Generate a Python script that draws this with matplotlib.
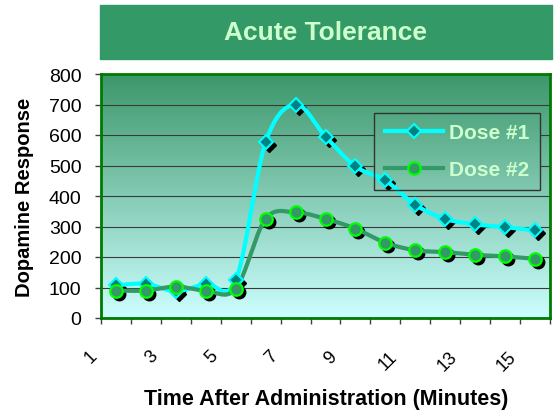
import matplotlib
matplotlib.use("Agg")
import matplotlib.pyplot as plt
import numpy as np
from matplotlib.colors import LinearSegmentedColormap
from matplotlib.patches import Rectangle
from matplotlib import transforms

plt.rcParams['font.family'] = ['Liberation Sans', 'DejaVu Sans']

# data
minutes = list(range(1, 16))
dose1 = [107, 112, 88, 112, 123, 576, 700, 595, 497, 451, 371, 325, 307, 298, 287]
dose2 = [90, 90, 103, 90, 96, 325, 346, 325, 293, 247, 222, 216, 207, 202, 194]
y_ticks = [0, 100, 200, 300, 400, 500, 600, 700, 800]


def smooth(x, y, n=24):
    # catmull-rom path through the points, like Excel's smoothed line
    p = np.column_stack([x, y]).astype(float)
    p = np.vstack([p[0], p, p[-1]])
    out = []
    t = np.linspace(0, 1, n)[:, None]
    for i in range(1, len(p) - 2):
        p0, p1, p2, p3 = p[i - 1], p[i], p[i + 1], p[i + 2]
        seg = 0.5 * ((2 * p1) + (-p0 + p2) * t + (2 * p0 - 5 * p1 + 4 * p2 - p3) * t ** 2
                     + (-p0 + 3 * p1 - 3 * p2 + p3) * t ** 3)
        out.append(seg if i == 1 else seg[1:])
    out = np.vstack(out)
    return out[:, 0], out[:, 1]


fig = plt.figure(figsize=(5.56, 4.14), dpi=100)
ax = fig.add_axes([101 / 556, 95 / 414, 449 / 556, 244 / 414])

# title box
fig.patches.append(Rectangle((100 / 556, 354 / 414), 452 / 556, 54 / 414,
                             transform=fig.transFigure, color='#339966', zorder=0))
fig.text(326 / 556, 381 / 414, 'Acute Tolerance', color='#CCFFCC', fontsize=19,
         fontweight='bold', ha='center', va='center')

cmap = LinearSegmentedColormap.from_list('bg', ['#CCFFFF', '#3C976A'])
grad = np.linspace(0, 800, 256).reshape(-1, 1)
ax.imshow(grad, extent=(0.5, 15.5, 0, 800), origin='lower', aspect='auto',
          cmap=cmap, vmin=0, vmax=800, zorder=0)

ax.set_axisbelow(True)
ax.yaxis.grid(True, color='#3a3a3a', lw=0.8)

shadow = transforms.offset_copy(ax.transData, fig=fig, x=3, y=-3, units='dots')

sx, sy = smooth(minutes, dose1)
ax.plot(sx, sy, color='#00FFFF', lw=3, zorder=3, solid_capstyle='round')
ax.plot(minutes, dose1, 'D', color='black', ms=7, transform=shadow, zorder=2)
ax.plot(minutes, dose1, 'D', mfc='#008080', mec='#00FFFF', mew=1.5, ms=7, zorder=4)

sx, sy = smooth(minutes, dose2)
ax.plot(sx, sy, color='#339966', lw=3, zorder=3, solid_capstyle='round')
ax.plot(minutes, dose2, 'o', color='black', ms=9, transform=shadow, zorder=2)
ax.plot(minutes, dose2, 'o', mfc='#339966', mec='#00FF00', mew=1.6, ms=9, zorder=4)

h1, = ax.plot([], [], '-D', color='#00FFFF', lw=3, mfc='#008080', mec='#00FFFF', mew=1.5, ms=7)
h2, = ax.plot([], [], '-o', color='#339966', lw=3, mfc='#339966', mec='#00FF00', mew=1.6, ms=9)

ax.set_xlim(0.5, 15.5)
ax.set_ylim(0, 800)
ax.set_yticks(y_ticks)
ax.set_yticklabels([str(v) for v in y_ticks], fontsize=14)
tick_pos = np.arange(0.5, 16, 1)
tick_lab = [str(m) if (m % 2 == 1) else '' for m in minutes] + ['']
ax.set_xticks(tick_pos)
ax.set_xticklabels(tick_lab, fontsize=13, rotation=45, ha='right', va='top')
ax.tick_params(axis='x', length=4, width=1, color='#404040', pad=17)
ax.tick_params(axis='y', length=4, width=1, color='#404040', pad=10)
for s in ax.spines.values():
    s.set_color('#007A00')
    s.set_linewidth(2)

ax.set_ylabel('Dopamine Response', fontsize=14.5, fontweight='bold')
ax.yaxis.set_label_coords(-0.15, 0.5)
fig.text(326 / 556, 14 / 414, 'Time After Administration (Minutes)', fontsize=15.5,
         fontweight='bold', ha='center', va='center')

leg = ax.legend([h1, h2], ['Dose #1', 'Dose #2'], loc='upper right',
                bbox_to_anchor=(0.978, 0.840), borderaxespad=0,
                prop={'weight': 'bold', 'size': 15},
                handlelength=2.8, handletextpad=0.3, borderpad=0.5, labelspacing=0.85,
                fancybox=False, facecolor='none', edgecolor='#333333', framealpha=1)
leg.get_frame().set_linewidth(1)
leg.set_zorder(5)
for t in leg.get_texts():
    t.set_color('#CCFFCC')

# cover the gridlines behind the legend with the same gradient
fig.canvas.draw()
bb = leg.get_window_extent().transformed(ax.transData.inverted())
patch = np.linspace(bb.y0, bb.y1, 128).reshape(-1, 1)
ax.imshow(patch, extent=(bb.x0, bb.x1, bb.y0, bb.y1), origin='lower', aspect='auto',
          cmap=cmap, vmin=0, vmax=800, zorder=1)
ax.set_xlim(0.5, 15.5)
ax.set_ylim(0, 800)

fig.savefig('out.png', dpi=100)
plt.close(fig)
